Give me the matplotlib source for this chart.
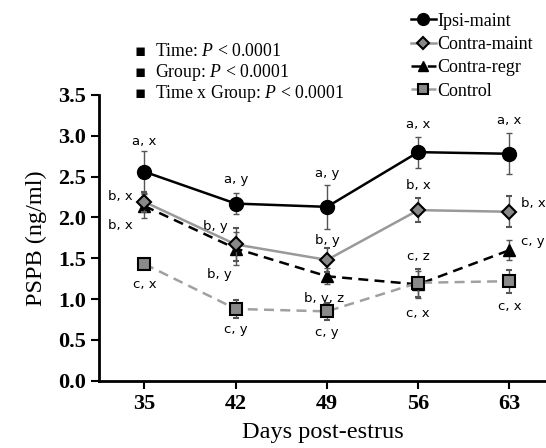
import numpy as np
import matplotlib.pyplot as plt
from matplotlib.lines import Line2D

days = [35, 42, 49, 56, 63]

ipsi = [2.56, 2.17, 2.13, 2.80, 2.78]
ipsi_err = [0.26, 0.13, 0.27, 0.19, 0.25]
cmaint = [2.19, 1.67, 1.48, 2.09, 2.07]
cmaint_err = [0.12, 0.20, 0.15, 0.15, 0.19]
cregr = [2.14, 1.62, 1.28, 1.18, 1.60]
cregr_err = [0.15, 0.20, 0.10, 0.17, 0.12]
control = [1.43, 0.88, 0.85, 1.20, 1.22]
control_err = [0.04, 0.11, 0.10, 0.17, 0.14]

ipsi_lbl = ["a, x", "a, y", "a, y", "a, x", "a, x"]
cmaint_lbl = ["b, x", "b, y", "b, y", "b, x", "b, x"]
cregr_lbl = ["b, x", "b, y", "b, y, z", "c, z", "c, y"]
control_lbl = ["c, x", "c, y", "c, y", "c, x", "c, x"]

plt.rcParams['font.family'] = ['Liberation Serif', 'DejaVu Serif']
plt.rcParams['mathtext.fontset'] = 'custom'
plt.rcParams['mathtext.it'] = 'Liberation Serif:italic'
plt.rcParams['mathtext.rm'] = 'Liberation Serif'

fig = plt.figure(figsize=(5.46, 4.48), dpi=100)
ax = fig.add_axes([0.181, 0.15, 0.819, 0.638])

styles = [
    dict(color='black', ls='-', marker='o', ms=10, mfc='black', mec='black', mew=1, zorder=5),
    dict(color='#999999', ls='-', marker='D', ms=7, mfc='#888888', mec='black', mew=1.5, zorder=4),
    dict(color='black', ls=(0, (4, 2.5)), marker='^', ms=8, mfc='black', mec='black', mew=1, zorder=3),
    dict(color='#a0a0a0', ls=(0, (4, 2.5)), marker='s', ms=9, mfc='#8a8a8a', mec='black', mew=1.5, zorder=6),
]
names = ['Ipsi-maint', 'Contra-maint', 'Contra-regr', 'Control']
series = [(ipsi, ipsi_err), (cmaint, cmaint_err), (cregr, cregr_err), (control, control_err)]

for (vals, err), st in zip(series, styles):
    ax.errorbar(days, vals, yerr=err, lw=1.8, ecolor='#555555', elinewidth=1, capsize=2.5, **st)

ann = dict(fontsize=9.5, family='DejaVu Sans', ha='center', va='center', textcoords='offset points')
ipsi_off = [(0, 22), (0, 17), (0, 24), (0, 20), (0, 24)]
cmaint_off = [(-17, 4), (-15, 13), (0, 14), (0, 18), (17, 6)]
cregr_off = [(-17, -14), (-12, -19), (-2, -16), (0, 20), (17, 6)]
control_off = [(0, -15), (0, -15), (0, -15), (0, -22), (0, -18)]
for lbls, vals, offs in [(ipsi_lbl, ipsi, ipsi_off), (cmaint_lbl, cmaint, cmaint_off),
                         (cregr_lbl, cregr, cregr_off), (control_lbl, control, control_off)]:
    for d, v, t, o in zip(days, vals, lbls, offs):
        ax.annotate(t, (d, v), xytext=o, **ann)

ax.set_xlim(31.5, 65.8)
ax.set_ylim(0, 3.5)
ax.set_xticks(days)
ax.set_yticks(np.arange(0, 3.51, 0.5))
ax.set_yticklabels([f"{v:.1f}" for v in np.arange(0, 3.51, 0.5)])
ax.spines['top'].set_visible(False)
ax.spines['right'].set_visible(False)
ax.spines['left'].set_linewidth(2)
ax.spines['bottom'].set_linewidth(2)
ax.tick_params(direction='out', width=1.5, length=6, labelsize=16)
for lab in ax.get_xticklabels() + ax.get_yticklabels():
    lab.set_fontweight('bold')
ax.set_xlabel('Days post-estrus', fontsize=17.5, labelpad=6)
ax.set_ylabel('PSPB (ng/ml)', fontsize=17.5, labelpad=8)

handles = []
for st in styles:
    h = dict(st)
    h.pop('zorder')
    h['ms'] = h['ms'] * 0.85
    handles.append(Line2D([], [], lw=1.8, **h))
fig.legend(handles, names, loc='upper right', bbox_to_anchor=(1.0, 1.0), frameon=False, fontsize=13,
           handlelength=1.4, handletextpad=0.1, labelspacing=0.35, borderaxespad=0.3)

stats = ["Time: $P$ < 0.0001", "Group: $P$ < 0.0001", "Time x Group: $P$ < 0.0001"]
for i, s in enumerate(stats):
    y = 0.886 - i * 0.047
    fig.text(0.247, y, "\u25aa", fontsize=12, va='center', family='DejaVu Sans')
    fig.text(0.284, y, s, fontsize=12.8, va='center')

fig.savefig('out.png', dpi=100)
